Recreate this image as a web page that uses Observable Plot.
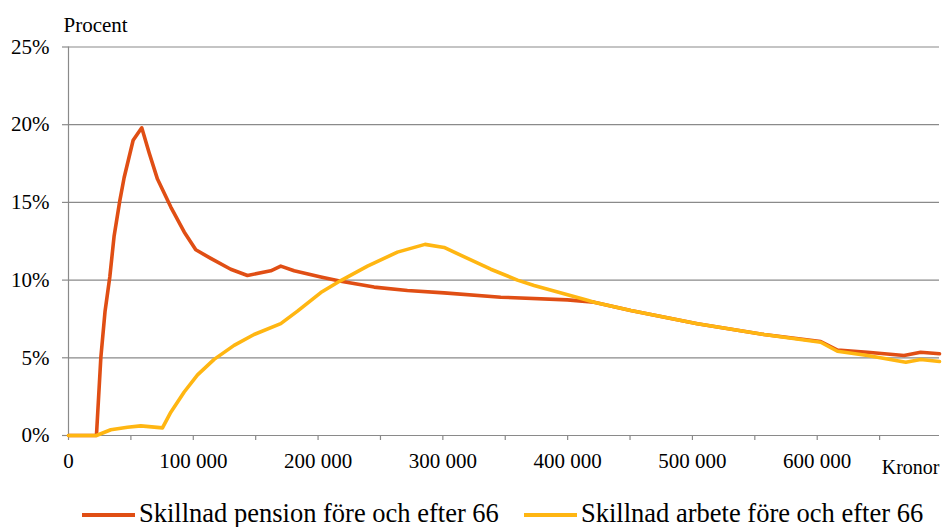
<!DOCTYPE html>
<html>
<head>
<meta charset="utf-8">
<script src="https://cdn.jsdelivr.net/npm/d3@7"></script>
<script src="https://cdn.jsdelivr.net/npm/@observablehq/plot@0.6"></script>
<style>
  html, body { margin: 0; padding: 0; background: #fff; }
  body { width: 942px; height: 527px; overflow: hidden; }
  svg { display: block; }
</style>
</head>
<body>
<div id="chart"></div>
<div id="legend"></div>
<script>
// Series names
const seriesNames = ["Skillnad pension före och efter 66", "Skillnad arbete före och efter 66"];

// Pension series (kronor, percent)
const pensionX = [0, 22400, 25900, 29300, 33100, 36500, 41100, 44600, 51800, 58700, 64600, 71300, 82000, 92700, 102000, 114000, 130000, 143400, 162100, 170100, 180800, 202200, 218200, 244900, 271600, 301000, 346400, 399800, 421200, 450600, 504000, 557400, 602800, 616200, 640300, 669600, 682900, 698000];
const pensionY = [0, 0, 5.0, 8.0, 10.2, 12.8, 15.1, 16.6, 19.0, 19.8, 18.2, 16.5, 14.7, 13.1, 11.95, 11.4, 10.7, 10.3, 10.6, 10.9, 10.6, 10.2, 9.93, 9.55, 9.33, 9.18, 8.9, 8.73, 8.58, 8.04, 7.19, 6.5, 6.05, 5.5, 5.36, 5.15, 5.36, 5.26];

// Work series (kronor, percent)
const arbeteX = [0, 22400, 33900, 47300, 57900, 75300, 82000, 92700, 103400, 116700, 132700, 148700, 170100, 183500, 202200, 218200, 239600, 263600, 285700, 301000, 338400, 359800, 373100, 415900, 421200, 450600, 504000, 557400, 602800, 616200, 640300, 671000, 682900, 698000];
const arbeteY = [0, 0, 0.37, 0.53, 0.62, 0.49, 1.5, 2.8, 3.9, 4.9, 5.8, 6.5, 7.2, 8.0, 9.2, 9.97, 10.9, 11.8, 12.3, 12.1, 10.7, 10.0, 9.65, 8.7, 8.58, 8.04, 7.19, 6.5, 6.0, 5.42, 5.15, 4.72, 4.89, 4.76];

// Ticks
const xTicks = [0, 50000, 100000, 150000, 200000, 250000, 300000, 350000, 400000, 450000, 500000, 550000, 600000, 650000];
const xLabelled = [0, 100000, 200000, 300000, 400000, 500000, 600000];
const yTicks = [0, 5, 10, 15, 20, 25];

const colors = ["#E04E14", "#FFB612"];
const FONT = "'Liberation Serif', 'Times New Roman', serif";

const pension = pensionX.map((x, i) => ({x, y: pensionY[i]}));
const arbete = arbeteX.map((x, i) => ({x, y: arbeteY[i]}));

const fmt = d => d3.format(",")(d).replace(/,/g, " ");

const chart = Plot.plot({
  width: 942,
  height: 485,
  marginLeft: 68,
  marginRight: 3,
  marginTop: 46.5,
  marginBottom: 50,
  style: {fontFamily: FONT, fontSize: "21px", color: "#000", background: "#fff"},
  x: {domain: [0, 698000]},
  y: {domain: [0, 25]},
  marks: [
    Plot.gridY(yTicks, {stroke: "#8a8a8a", strokeOpacity: 1, strokeWidth: 1.2}),
    Plot.ruleX([0], {stroke: "#8a8a8a", strokeWidth: 1.2}),
    Plot.ruleY([0], {stroke: "#8a8a8a", strokeWidth: 1.2}),
    Plot.axisX(xTicks, {tickSize: 5, tickPadding: 13, stroke: "#8a8a8a", strokeWidth: 1.2, fill: "#000", tickFormat: d => xLabelled.includes(d) ? fmt(d) : "", label: null}),
    Plot.axisY(yTicks, {tickSize: 6, tickPadding: 13, stroke: "#8a8a8a", strokeWidth: 1.2, fill: "#000", tickFormat: d => d + "%", label: null}),
    Plot.text(["Procent"], {frameAnchor: "top-left", dx: -5, dy: -15.5, textAnchor: "start", lineAnchor: "bottom", fontSize: 21, fill: "#000"}),
    Plot.text(["Kronor"], {frameAnchor: "bottom-right", dx: 0, dy: 38, textAnchor: "end", lineAnchor: "bottom", fontSize: 20, fill: "#000"}),
    Plot.line(pension, {x: "x", y: "y", stroke: colors[0], strokeWidth: 3.6}),
    Plot.line(arbete, {x: "x", y: "y", stroke: colors[1], strokeWidth: 3.6})
  ]
});
document.getElementById("chart").appendChild(chart);

// Legend (separate SVG below the plot)
const lefts = [82, 524];
const lsvg = d3.select("#legend").append("svg")
  .attr("width", 942).attr("height", 42)
  .style("font-family", FONT);
seriesNames.forEach((name, i) => {
  const g = lsvg.append("g").attr("transform", `translate(${lefts[i]},0)`);
  g.append("line").attr("x1", 0).attr("x2", 53).attr("y1", 30).attr("y2", 30)
    .attr("stroke", colors[i]).attr("stroke-width", 4);
  g.append("text").attr("x", 57).attr("y", 36.5).attr("font-size", 26.5).attr("fill", "#000").text(name);
});
</script>
</body>
</html>
